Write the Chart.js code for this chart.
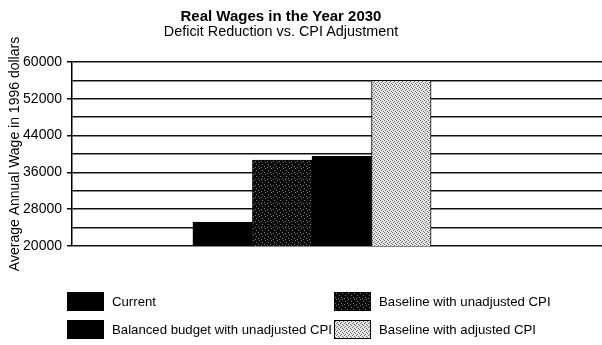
<!DOCTYPE html>
<html>
<head>
<meta charset="utf-8">
<script src="https://cdn.jsdelivr.net/npm/chart.js@4.4.0/dist/chart.umd.min.js"></script>
<style>
  html, body { margin: 0; padding: 0; background: #fff; }
  body { width: 602px; height: 345px; position: relative; overflow: hidden;
         font-family: "Liberation Sans", Arial, sans-serif; color: #000; }
  canvas { position: absolute; left: 0; top: 0; }
  .t { position: absolute; left: 0; width: 562px; text-align: center; white-space: nowrap; line-height: 1; }
  #title { top: 8px; font-size: 15px; font-weight: bold; }
  #subtitle { top: 24px; font-size: 14.4px; }
  .lg { position: absolute; font-size: 13.2px; line-height: 1; white-space: nowrap; }
  .lg .box { position: absolute; left: 0; top: 0; width: 35px; height: 17px; border: 1px solid #000; }
  .lg .txt { position: absolute; left: 45px; top: 3px; }
</style>
</head>
<body>
<canvas id="chart" width="602" height="345"></canvas>
<div class="t" id="title">Real Wages in the Year 2030</div>
<div class="t" id="subtitle">Deficit Reduction vs. CPI Adjustment</div>
<div id="legend"></div>
<script>
// values
const categories = [
  "Current",
  "Baseline with unadjusted CPI",
  "Balanced budget with unadjusted CPI",
  "Baseline with adjusted CPI"
];
const wages = [25200, 38700, 39500, 56000];
const yLabels = [20000, 28000, 36000, 44000, 52000, 60000];

// stipple fills like the print shading
function makeTile(base, dot, size, dots) {
  const c = document.createElement("canvas");
  c.width = size; c.height = size;
  const g = c.getContext("2d");
  g.fillStyle = base;
  g.fillRect(0, 0, size, size);
  g.fillStyle = dot;
  dots.forEach(p => g.fillRect(p[0], p[1], 1, 1));
  return c;
}
const tiles = [
  makeTile("#000", "#000", 4, []),
  makeTile("#0a0a0a", "#7a7a7a", 6, [[1, 0], [4, 2], [0, 4], [3, 5]]),
  makeTile("#000", "#000", 4, []),
  makeTile("#e4e4e4", "#707070", 4, [[0, 0], [2, 1], [1, 2], [3, 3]])
];
const pctx = document.createElement("canvas").getContext("2d");
const fills = tiles.map(t => pctx.createPattern(t, "repeat"));

// legend, 2 per row
const legendPos = [[67, 292], [334, 292], [67, 320], [334, 320]];
const legend = document.getElementById("legend");
categories.forEach((name, i) => {
  const d = document.createElement("div");
  d.className = "lg";
  d.style.left = legendPos[i][0] + "px";
  d.style.top = legendPos[i][1] + "px";
  d.innerHTML = '<span class="box"></span><span class="txt"></span>';
  d.querySelector(".box").style.backgroundImage = "url(" + tiles[i].toDataURL() + ")";
  d.querySelector(".txt").textContent = name;
  legend.appendChild(d);
});

const ctx = document.getElementById("chart");
new Chart(ctx, {
  type: "bar",
  data: {
    datasets: [{
      data: categories.map((c, i) => ({ x: i, y: wages[i] })),
      backgroundColor: fills,
      borderColor: "#000",
      borderWidth: 1,
      categoryPercentage: 1,
      barPercentage: 1
    }]
  },
  options: {
    responsive: false,
    animation: false,
    layout: { padding: { top: 62, bottom: 99, left: 0, right: 0 } },
    plugins: { legend: { display: false }, tooltip: { enabled: false } },
    scales: {
      x: { type: "linear", display: false, offset: false, grid: { offset: false }, min: -2.53, max: 6.37 },
      y: {
        min: 20000,
        max: 60000,
        afterFit: s => { s.width = 72; },
        border: { color: "#000", width: 1.5 },
        grid: {
          color: "#111",
          lineWidth: 1.5,
          tickLength: 5,
          tickColor: c => yLabels.includes(c.tick.value) ? "#000" : "rgba(0,0,0,0)"
        },
        ticks: {
          stepSize: 4000,
          autoSkip: false,
          padding: 5,
          color: "#000",
          font: { family: "Liberation Sans", size: 14 },
          callback: v => yLabels.includes(v) ? String(v) : ""
        },
        title: {
          display: true,
          text: "Average Annual Wage in 1996 dollars",
          color: "#000",
          font: { family: "Liberation Sans", size: 14 },
          padding: { top: 7, bottom: 0 }
        }
      }
    }
  }
});
</script>
</body>
</html>
